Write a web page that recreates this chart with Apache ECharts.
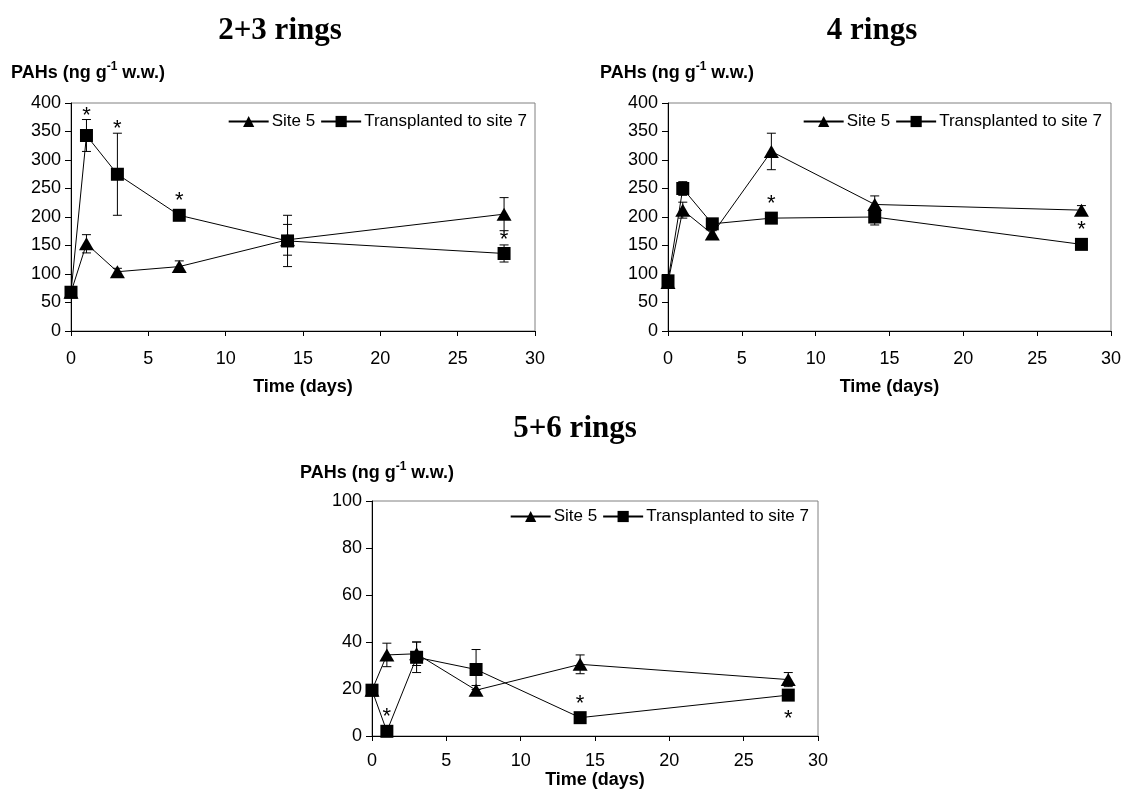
<!DOCTYPE html>
<html>
<head>
<meta charset="utf-8">
<script src="https://cdn.jsdelivr.net/npm/echarts@6/dist/echarts.min.js"></script>
<style>
  html, body { margin: 0; padding: 0; background: #fff; }
  #chart { width: 1124px; height: 798px; }
</style>
</head>
<body>
<div id="chart"></div>
<script>
// Sampling days
const days = [0, 1, 3, 7, 14, 28];

// 2+3 rings (ng g-1 w.w.)
const site5_23 = [68, 153, 104, 113, 160, 205];
const site5Err_23 = [3, 16, 6, 10, 27, 29];
const trans_23 = [68, 343, 275, 203, 158, 136];
const transErr_23 = [3, 28, 72, 4, 45, 15];
const sig_23 = [null, 'above', 'above', 'above', null, 'above'];

// 4 rings
const site5_4 = [85, 212, 170, 315, 222, 212];
const site5Err_4 = [5, 14, 6, 32, 15, 8];
const trans_4 = [88, 250, 188, 198, 200, 152];
const transErr_4 = [5, 12, 5, 6, 14, 5];
const sig_4 = [null, null, null, 'above', null, 'above'];

// 5+6 rings
const site5_56 = [19.5, 34.5, 35, 19.5, 30.5, 24];
const site5Err_56 = [1, 5, 5, 2, 4, 3];
const trans_56 = [19.5, 2, 33.5, 28.3, 7.8, 17.4];
const transErr_56 = [1, 1, 6.5, 8.5, 1, 1];
const sig_56 = [null, 'above', null, null, 'above', 'below'];

const panelTitles = ['2+3 rings', '4 rings', '5+6 rings'];
const seriesNames = ['Site 5', 'Transplanted to site 7'];
const xTitle = 'Time (days)';
const yMax = [400, 400, 100];
const yStep = [50, 50, 20];

const SANS = '"Liberation Sans", Arial, Helvetica, sans-serif';
const SERIF = '"Liberation Serif", "Times New Roman", serif';

const panels = [
  { s: site5_23, se: site5Err_23, t: trans_23, te: transErr_23, sig: sig_23,
    grid: { left: 71, top: 103, width: 464, height: 228 },
    titleX: 275, titleTop: 10, yNameX: 11, yNameTop: 61,
    legendRight: 597, legendTop: 113, labelMargin: 19, nameGap: 47 },
  { s: site5_4, se: site5Err_4, t: trans_4, te: transErr_4, sig: sig_4,
    grid: { left: 668, top: 103, width: 444, height: 228 },
    titleX: 867, titleTop: 10, yNameX: 600, yNameTop: 61,
    legendRight: 22, legendTop: 113, labelMargin: 19, nameGap: 47 },
  { s: site5_56, se: site5Err_56, t: trans_56, te: transErr_56, sig: sig_56,
    grid: { left: 372, top: 501, width: 446, height: 235 },
    titleX: 570, titleTop: 408, yNameX: 300, yNameTop: 461,
    legendRight: 315, legendTop: 508, labelMargin: 16, nameGap: 33 }
];

const chart = echarts.init(document.getElementById('chart'), null, { renderer: 'canvas' });

const grids = [], xAxes = [], yAxes = [], series = [], titles = [], legends = [];

// Vertical error bar with short caps
function errorBarItem(params, api) {
  const x = api.value(0), m = api.value(1), e = api.value(2);
  const top = api.coord([x, m + e]);
  const bot = api.coord([x, m - e]);
  const c = 4.5;
  const st = { stroke: '#000', lineWidth: 1 };
  return {
    type: 'group',
    children: [
      { type: 'line', shape: { x1: top[0], y1: top[1], x2: bot[0], y2: bot[1] }, style: st },
      { type: 'line', shape: { x1: top[0] - c, y1: top[1], x2: top[0] + c, y2: top[1] }, style: st },
      { type: 'line', shape: { x1: bot[0] - c, y1: bot[1], x2: bot[0] + c, y2: bot[1] }, style: st }
    ]
  };
}

// Significance asterisk placed just beyond the error bar of the transplanted series
function starItem(params, api) {
  const x = api.value(0), m = api.value(1), e = api.value(2), dir = api.value(3);
  const pm = api.coord([x, m]);
  let y;
  if (dir > 0) {
    const pt = api.coord([x, m + e]);
    y = Math.min(pt[1] - 9, pm[1] - 19);
  } else {
    const pb = api.coord([x, m - e]);
    y = Math.max(pb[1] + 9, pm[1] + 19);
  }
  return {
    type: 'text',
    x: pm[0],
    y: y + 5,
    style: { text: '*', fill: '#000', font: 'normal 22px ' + SANS, align: 'center', verticalAlign: 'middle' }
  };
}

panels.forEach((p, i) => {
  grids.push(Object.assign({ show: true, borderColor: '#808080', borderWidth: 1, backgroundColor: 'transparent' }, p.grid));

  xAxes.push({
    gridIndex: i, type: 'value', min: 0, max: 30, interval: 5,
    name: xTitle, nameLocation: 'middle', nameGap: p.nameGap,
    nameTextStyle: { fontFamily: SANS, fontSize: 18, fontWeight: 'bold', color: '#000' },
    axisLine: { show: true, onZero: false, lineStyle: { color: '#000', width: 1 } },
    axisTick: { show: true, inside: false, length: 5, lineStyle: { color: '#000' } },
    axisLabel: { fontFamily: SANS, fontSize: 18, color: '#000', margin: p.labelMargin },
    splitLine: { show: false }
  });

  yAxes.push({
    gridIndex: i, type: 'value', min: 0, max: yMax[i], interval: yStep[i],
    axisLine: { show: true, onZero: false, lineStyle: { color: '#000', width: 1 } },
    axisTick: { show: true, inside: false, length: 6, lineStyle: { color: '#000' } },
    axisLabel: { fontFamily: SANS, fontSize: 18, color: '#000', margin: 10 },
    splitLine: { show: false }
  });

  titles.push({
    text: panelTitles[i], left: p.titleX, top: p.titleTop, textAlign: 'center',
    textStyle: { fontFamily: SERIF, fontSize: 31, fontWeight: 'bold', color: '#000' }
  });
  titles.push({
    text: '{b|PAHs (ng g}{s|-1}{b| w.w.)}', left: p.yNameX, top: p.yNameTop, padding: 0,
    textStyle: {
      rich: {
        b: { fontFamily: SANS, fontSize: 18, fontWeight: 'bold', color: '#000', lineHeight: 21, verticalAlign: 'bottom' },
        s: { fontFamily: SANS, fontSize: 12, fontWeight: 'bold', color: '#000', lineHeight: 21, verticalAlign: 'top', padding: [0, 0, 9, 0] }
      }
    }
  });

  legends.push({
    data: seriesNames, right: p.legendRight, top: p.legendTop, orient: 'horizontal',
    itemWidth: 40, itemHeight: 14, itemGap: 5, padding: 0, selectedMode: false,
    textStyle: { fontFamily: SANS, fontSize: 17, color: '#000', padding: [0, 0, 0, -2] }
  });

  series.push({
    name: seriesNames[0], type: 'line', xAxisIndex: i, yAxisIndex: i,
    data: days.map((d, k) => [d, p.s[k]]),
    symbol: 'triangle', symbolSize: [15, 13], symbolKeepAspect: false,
    lineStyle: { color: '#000', width: 1 }, itemStyle: { color: '#000', borderWidth: 0 },
    z: 3, silent: true
  });
  series.push({
    type: 'custom', xAxisIndex: i, yAxisIndex: i, renderItem: errorBarItem,
    data: days.map((d, k) => [d, p.s[k], p.se[k]]), z: 4, silent: true
  });
  series.push({
    name: seriesNames[1], type: 'line', xAxisIndex: i, yAxisIndex: i,
    data: days.map((d, k) => [d, p.t[k]]),
    symbol: 'rect', symbolSize: 13,
    lineStyle: { color: '#000', width: 1 }, itemStyle: { color: '#000', borderWidth: 0 },
    z: 5, silent: true
  });
  series.push({
    type: 'custom', xAxisIndex: i, yAxisIndex: i, renderItem: errorBarItem,
    data: days.map((d, k) => [d, p.t[k], p.te[k]]), z: 6, silent: true
  });
  series.push({
    type: 'custom', xAxisIndex: i, yAxisIndex: i, renderItem: starItem,
    data: days.map((d, k) => [d, p.t[k], p.te[k], p.sig[k] === 'above' ? 1 : -1])
              .filter((row, k) => p.sig[k] !== null),
    z: 7, silent: true
  });
});

chart.setOption({
  animation: false,
  backgroundColor: '#fff',
  title: titles,
  legend: legends,
  grid: grids,
  xAxis: xAxes,
  yAxis: yAxes,
  series: series
});
</script>
</body>
</html>
